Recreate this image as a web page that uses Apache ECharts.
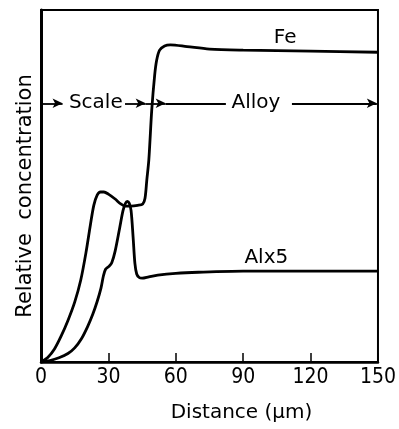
<!DOCTYPE html>
<html>
<head>
<meta charset="utf-8">
<script src="https://cdn.jsdelivr.net/npm/echarts@6/dist/echarts.min.js"></script>
<style>
html,body{margin:0;padding:0;background:#fff;}
#chart{width:399px;height:429px;}
</style>
</head>
<body>
<div id="chart"></div>
<script>
// x ticks
var xTicks = [0, 30, 60, 90, 120, 150];
// Fe profile [distance, relative concentration]
var feCurve = [
  [0,0],[3,0.013],[6,0.037],[9,0.074],[12,0.118],[15,0.17],[17.7,0.233],
  [20,0.31],[22,0.39],[23.5,0.445],[25,0.474],[26.5,0.483],[28,0.483],
  [30,0.477],[33,0.463],[35.5,0.449],[37.5,0.443],[40,0.443],[43,0.445],[45.3,0.449],
  [46.3,0.465],[47.1,0.517],[48,0.574],[49.3,0.716],[50.6,0.815],[51.5,0.858],[52.8,0.886],
  [55,0.898],[57.6,0.901],[65,0.896],[75,0.889],[90,0.886],[120,0.883],[150,0.88]
];
// Al x5 profile
var alCurve = [
  [0,0],[4,0.004],[8,0.012],[12,0.024],[15,0.04],[18,0.066],[20.7,0.1],[23,0.135],
  [25,0.172],[26.7,0.21],[27.8,0.245],[28.8,0.264],[30.3,0.272],[31.5,0.282],
  [33,0.315],[35,0.38],[36.5,0.43],[37.6,0.451],[38.4,0.456],[39.3,0.451],[40.1,0.43],
  [41,0.355],[41.8,0.28],[42.6,0.25],[43.7,0.24],[45,0.238],[48,0.242],[52,0.247],
  [60,0.252],[70,0.255],[90,0.258],[150,0.258]
];
// text annotations [text, x, y]
var labels = [
  ['Fe', 108.7, 0.92],
  ['Alx5', 100.3, 0.297],
  ['Scale', 24.4, 0.735],
  ['Alloy', 95.7, 0.735]
];
// annotation arrows [x0, x1, y, arrow]
var arrows = [
  [0, 9.6, 0.735, true],
  [37.4, 46.6, 0.735, true],
  [46.6, 55.5, 0.735, true],
  [55.5, 82.3, 0.735, false],
  [111.7, 149.5, 0.735, true]
];

var chart = echarts.init(document.getElementById('chart'), null, {renderer:'canvas'});
var font = '"DejaVu Sans",sans-serif';
var condensed = '"DejaVu Sans Condensed","DejaVu Sans",sans-serif';
var option = {
  animation: false,
  backgroundColor: '#fff',
  grid: {left: 41, right: 17, top: 10, bottom: 67, show: true, borderColor: '#000', borderWidth: 2},
  xAxis: {
    type: 'value', min: xTicks[0], max: xTicks[xTicks.length-1], interval: 30,
    name: 'Distance (μm)', nameLocation: 'middle', nameGap: 41,
    nameTextStyle: {fontFamily: font, fontSize: 20, color: '#000', padding:[0,0,0,64]},
    axisLine: {lineStyle: {color: '#000', width: 2.5}},
    axisTick: {inside: true, length: 9, lineStyle: {color: '#000', width: 1.5}},
    axisLabel: {fontFamily: condensed, fontSize: 21, color: '#000', margin: 5},
    splitLine: {show: false}
  },
  yAxis: {
    type: 'value', min: 0, max: 1,
    name: 'Relative  concentration', nameLocation: 'middle', nameGap: 5,
    nameTextStyle: {fontFamily: font, fontSize: 21, color: '#000', padding:[0,0,0,-20]},
    axisLine: {show: true, lineStyle: {color: '#000', width: 3}},
    axisTick: {show: false}, axisLabel: {show: false}, splitLine: {show: false}
  },
  series: [
    {type: 'line', data: feCurve, showSymbol: false, smooth: 0.3,
     lineStyle: {color: '#000', width: 2.8}},
    {type: 'line', data: alCurve, showSymbol: false, smooth: 0.3,
     lineStyle: {color: '#000', width: 2.8}},
    {type: 'line', data: [], showSymbol: false,
     markLine: {
       silent: true, symbol: ['none','none'], animation: false,
       label: {show: false},
       lineStyle: {color: '#000', width: 1.8, type: 'solid'},
       data: arrows.map(function(a){
         return [{coord:[a[0],a[2]], symbol:'none'},
                 {coord:[a[1],a[2]], symbol: a[3] ? 'arrow' : 'none', symbolSize: [7,10]}];
       })
     }},
    {type: 'scatter', symbolSize: 0, silent: true, itemStyle: {opacity: 1, color: '#000'},
     data: labels.map(function(l){ return {value:[l[1], l[2]], name:l[0]}; }),
     label: {show: true, position: 'inside', formatter: '{b}', fontFamily: font, fontSize: 20,
             color: '#000', opacity: 1, textBorderWidth: 0}}
  ]
};
chart.setOption(option);
</script>
</body>
</html>
